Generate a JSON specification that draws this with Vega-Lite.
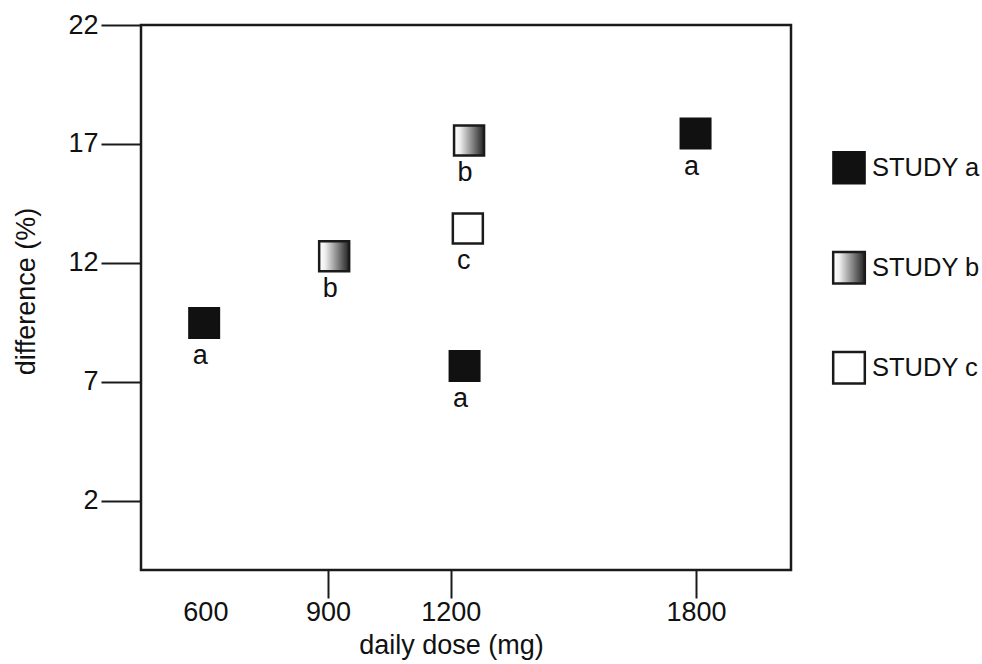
{
  "$schema": "https://vega.github.io/schema/vega-lite/v6.json",
  "padding": {"left": 11, "top": 9, "right": 0, "bottom": 0},
  "background": "white",
  "datasets": {
    "points": [
      {"study": "a", "dose": 597, "diff": 9.48},
      {"study": "b", "dose": 915, "diff": 12.28},
      {"study": "a", "dose": 1234, "diff": 7.67},
      {"study": "c", "dose": 1242, "diff": 13.45},
      {"study": "b", "dose": 1245, "diff": 17.15},
      {"study": "a", "dose": 1799, "diff": 17.44}
    ],
    "legend": [
      {"study": "a", "label": "STUDY a"},
      {"study": "b", "label": "STUDY b"},
      {"study": "c", "label": "STUDY c"}
    ]
  },
  "spacing": 8,
  "hconcat": [
    {
      "width": 650,
      "height": 545,
      "data": {"name": "points"},
      "encoding": {
        "x": {
          "field": "dose",
          "type": "quantitative",
          "scale": {"domain": [442.5, 2032.5], "nice": false, "zero": false},
          "axis": {
            "values": [600, 900, 1200, 1800],
            "format": "d",
            "title": "daily dose (mg)",
            "tickSize": 28,
            "labelPadding": 1,
            "titlePadding": 7,
            "titleX": 310,
            "tickOpacity": {"condition": {"test": "datum.value === 600", "value": 0}, "value": 1}
          }
        },
        "y": {
          "field": "diff",
          "type": "quantitative",
          "scale": {"domain": [-0.9, 22], "nice": false, "zero": false},
          "axis": {
            "values": [2, 7, 12, 17, 22],
            "title": "difference (%)",
            "tickSize": 40,
            "labelPadding": 3,
            "titlePadding": 27,
            "titleY": 266
          }
        }
      },
      "layer": [
        {
          "transform": [{"filter": "datum.study === 'a'"}],
          "mark": {"type": "square", "size": 900, "fill": "#111111", "stroke": "#111111", "strokeWidth": 2, "opacity": 1}
        },
        {
          "transform": [{"filter": "datum.study === 'b'"}],
          "mark": {
            "type": "square", "size": 900, "opacity": 1, "stroke": "#1a1a1a", "strokeWidth": 2.5,
            "fill": {"gradient": "linear", "x1": 0, "y1": 0, "x2": 1, "y2": 0,
              "stops": [
                {"offset": 0, "color": "#ffffff"},
                {"offset": 0.2, "color": "#eeeeee"},
                {"offset": 0.6, "color": "#888888"},
                {"offset": 1, "color": "#222222"}
              ]}
          }
        },
        {
          "transform": [{"filter": "datum.study === 'c'"}],
          "mark": {"type": "square", "size": 900, "fill": "#ffffff", "stroke": "#1a1a1a", "strokeWidth": 2.5, "opacity": 1}
        },
        {
          "mark": {"type": "text", "dy": 41, "dx": -4, "baseline": "alphabetic", "align": "center", "fontSize": 27, "font": "Liberation Sans, Arial, sans-serif", "color": "#111111"},
          "encoding": {"text": {"field": "study"}}
        }
      ]
    },
    {
      "width": 96,
      "height": 400,
      "view": {"stroke": null},
      "data": {"name": "legend"},
      "encoding": {
        "y": {
          "field": "study",
          "type": "nominal",
          "scale": {"type": "point", "padding": 1, "align": 0.714},
          "axis": null
        }
      },
      "layer": [
        {
          "transform": [{"filter": "datum.study === 'a'"}],
          "mark": {"type": "square", "size": 1000, "fill": "#111111", "stroke": "#111111", "strokeWidth": 2, "opacity": 1}
        },
        {
          "transform": [{"filter": "datum.study === 'b'"}],
          "mark": {
            "type": "square", "size": 1000, "opacity": 1, "stroke": "#1a1a1a", "strokeWidth": 2.5,
            "fill": {"gradient": "linear", "x1": 0, "y1": 0, "x2": 1, "y2": 0,
              "stops": [
                {"offset": 0, "color": "#ffffff"},
                {"offset": 0.2, "color": "#eeeeee"},
                {"offset": 0.6, "color": "#888888"},
                {"offset": 1, "color": "#222222"}
              ]}
          }
        },
        {
          "transform": [{"filter": "datum.study === 'c'"}],
          "mark": {"type": "square", "size": 1000, "fill": "#ffffff", "stroke": "#1a1a1a", "strokeWidth": 2.5, "opacity": 1}
        },
        {
          "mark": {"type": "text", "align": "left", "dx": 23, "baseline": "middle", "fontSize": 25.5, "font": "Liberation Sans, Arial, sans-serif", "color": "#111111"},
          "encoding": {"text": {"field": "label"}}
        }
      ]
    }
  ],
  "config": {
    "view": {"stroke": "#1a1a1a", "strokeWidth": 2.5},
    "axis": {
      "grid": false,
      "domain": false,
      "labelFont": "Liberation Sans, Arial, sans-serif",
      "titleFont": "Liberation Sans, Arial, sans-serif",
      "labelFontSize": 27,
      "titleFontSize": 27,
      "titleFontWeight": "normal",
      "labelColor": "#111111",
      "titleColor": "#111111",
      "tickColor": "#1a1a1a",
      "tickWidth": 2
    }
  }
}
